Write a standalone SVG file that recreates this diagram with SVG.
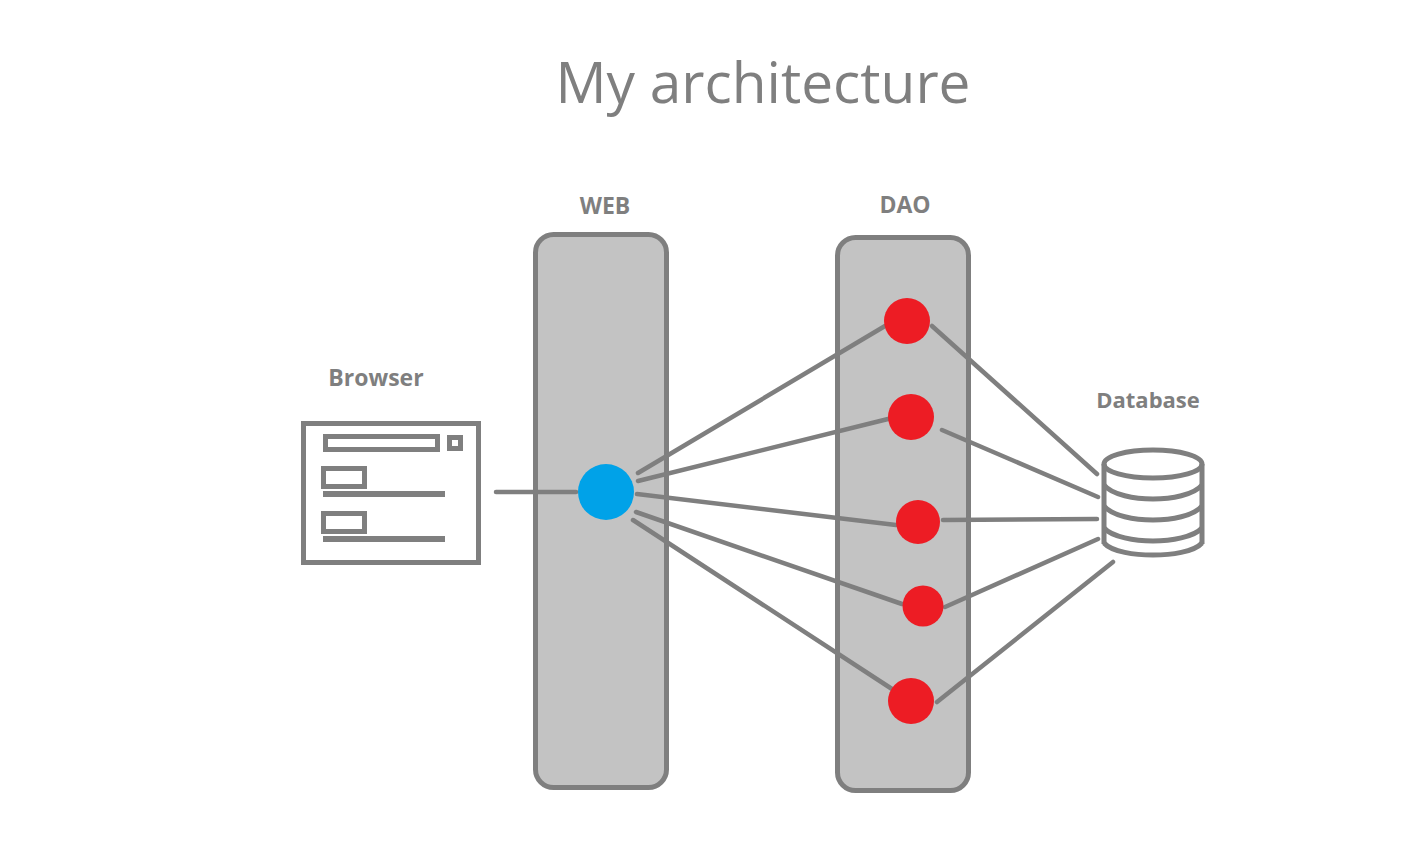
<svg xmlns="http://www.w3.org/2000/svg" width="1421" height="852" viewBox="0 0 1421 852">
<style>
text{font-family:"Open Sans","Noto Sans","Liberation Sans",sans-serif;fill:#7f7f7f}
.lbl{font-size:23px;font-weight:700;text-anchor:middle}
.title{font-size:56.800px;text-anchor:middle}
.col{fill:#c3c3c3;stroke:#7f7f7f;stroke-width:5}
.ln{stroke:#7f7f7f;stroke-width:4.500;fill:none;stroke-linecap:round}
.ic{stroke:#7f7f7f;stroke-width:5;fill:none}
.db{stroke:#7f7f7f;stroke-width:5;fill:none}
.red{fill:#ed1c24}
.blue{fill:#00a2e8}
</style>
<rect width="1421" height="852" fill="#fff"/>
<text id="title" class="title" x="763" y="103">My architecture</text>
<g id="web"><rect class="col" x="535.500" y="234.500" width="131" height="553" rx="18"/><text class="lbl" x="605" y="214">WEB</text></g>
<g id="dao"><rect class="col" x="837.500" y="237.500" width="131" height="553" rx="18"/><text class="lbl" x="905" y="213">DAO</text></g>
<g id="connectors">
<path class="ln" d="M496 492H576"/>
<path class="ln" d="M638 473L885 326"/>
<path class="ln" d="M638 481L888 419"/>
<path class="ln" d="M637 494L896 525"/>
<path class="ln" d="M636 512L902 604"/>
<path class="ln" d="M633 520L892 689"/>
<path class="ln" d="M932 326L1097 474"/>
<path class="ln" d="M942 430L1098 497"/>
<path class="ln" d="M943 520L1097 519"/>
<path class="ln" d="M945 607L1098 539"/>
<path class="ln" d="M937 702L1113 562"/>
</g>
<g id="browser">
<text class="lbl" x="376" y="386">Browser</text>
<rect class="ic" x="303.500" y="423.500" width="175" height="139"/>
<rect class="ic" x="325.500" y="436.500" width="112" height="13"/>
<rect class="ic" x="449.500" y="437.500" width="11" height="11"/>
<rect class="ic" x="323.500" y="468.500" width="41" height="18"/>
<rect x="323" y="491" width="122" height="6" fill="#7f7f7f"/>
<rect class="ic" x="323.500" y="513.500" width="41" height="18"/>
<rect x="323" y="536" width="122" height="6" fill="#7f7f7f"/>
</g>
<g id="webNode"><circle class="blue" cx="606" cy="492" r="28"/></g>
<g id="dao1"><circle class="red" cx="907" cy="321" r="23"/></g>
<g id="dao2"><circle class="red" cx="911" cy="417" r="23"/></g>
<g id="dao3"><circle class="red" cx="918" cy="522" r="22"/></g>
<g id="dao4"><circle class="red" cx="923" cy="606" r="20.500"/></g>
<g id="dao5"><circle class="red" cx="911" cy="701" r="23"/></g>
<g id="database">
<text class="lbl" style="font-size:22px" x="1148" y="408">Database</text>
<ellipse class="db" cx="1153" cy="464" rx="49" ry="14"/>
<path class="db" d="M1104 464V544M1202 464V544"/>
<path class="db" d="M1104 485C1112 495 1135 499 1153 499S1194 495 1202 485"/>
<path class="db" d="M1104 506C1112 516 1135 520 1153 520S1194 516 1202 506"/>
<path class="db" d="M1104 528C1112 537 1135 541 1153 541S1194 537 1202 528"/>
<path class="db" d="M1104 543C1112 552 1135 555 1153 555S1194 552 1202 543"/>
</g>
</svg>
